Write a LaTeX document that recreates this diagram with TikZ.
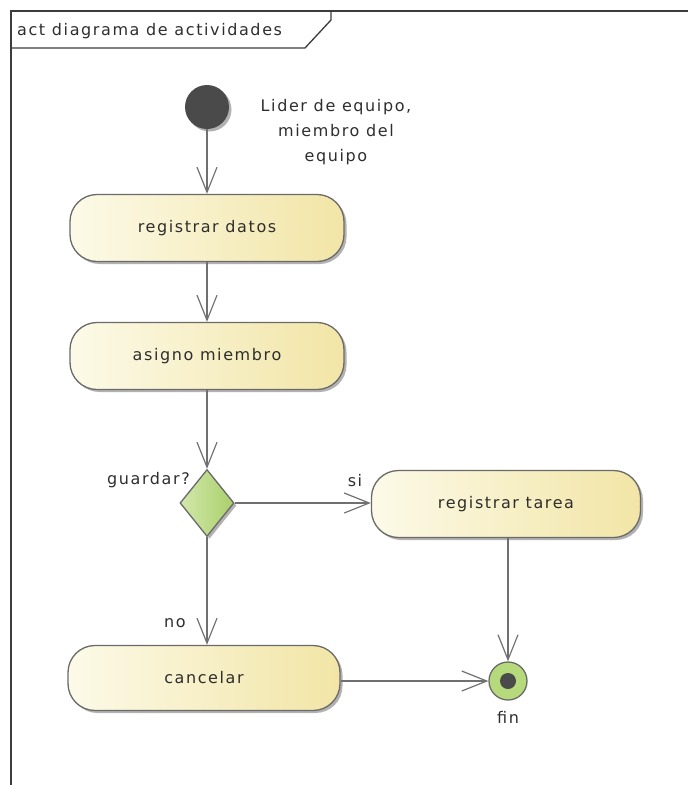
\documentclass[tikz,border=0pt]{standalone}
\usepackage{fontspec}
\usepackage{tikz}
\usetikzlibrary{arrows.meta,shapes.geometric,shadows}
\newfontfamily\umlfont{DejaVu Sans}[LetterSpace=10]
\definecolor{cLine}{HTML}{707070}
\definecolor{cEdge}{HTML}{6A6A6A}
\definecolor{cFrame}{HTML}{3C3C3C}
\definecolor{cTxt}{HTML}{2E2E2E}
\definecolor{cBoxL}{HTML}{FCFAE8}
\definecolor{cBoxR}{HTML}{F2E5A6}
\definecolor{cDecL}{HTML}{D3E7AC}
\definecolor{cDecR}{HTML}{A9D06A}
\definecolor{cDot}{HTML}{4A4A4A}
\definecolor{cFin}{HTML}{B6D97C}
\tikzset{
  shad/.style={drop shadow={shadow xshift=2.5pt, shadow yshift=-2.5pt, opacity=0.3, fill=black}},
  actbox/.style={rectangle, rounded corners=27pt, draw=cEdge, line width=1.3pt,
    left color=cBoxL, right color=cBoxR, minimum width=274pt, minimum height=67pt, shad},
  decis/.style={diamond, draw=cEdge, line width=1.3pt, left color=cDecL, right color=cDecR,
    minimum width=54pt, minimum height=67pt, inner sep=0pt, shad},
  startdot/.style={circle, fill=cDot, minimum size=44pt, inner sep=0pt, shad},
  finnode/.style={circle, draw=cEdge, line width=1.3pt, fill=cFin, minimum size=38pt, inner sep=0pt,
    path picture={\fill[cDot] (path picture bounding box.center) circle (8pt);}},
  flow/.style={draw=cLine, line width=1.2pt, -{Straight Barb[length=25pt, width=20pt]}},
  lbl/.style={text=cTxt, inner sep=0pt},
  frameline/.style={draw=cFrame, line width=1.8pt},
}

\begin{document}
\begin{tikzpicture}[x=1pt, y=-1pt, font=\umlfont\fontsize{16}{25}\selectfont, text=cTxt]
\useasboundingbox (0,0) rectangle (688,785);
% frame
\draw[frameline] (11,785) -- (11,11) -- (688,11);
\draw[frameline, line width=1.3pt] (11,48) -- (305,48) -- (331,20) -- (331,11);
\node[lbl, anchor=west] (title) at (17,31) {act diagrama de actividades};
% nodes
\node[startdot] (start) at (207,107) {};
\node[lbl, align=center] (actor) at (336,132) {Lider de equipo,\\miembro del\\equipo};
\node[actbox] (datos) at (207,228) {registrar datos};
\node[actbox] (miembro) at (207,356) {asigno miembro};
\node[decis] (guardar) at (207,503) {};
\node[lbl, anchor=east] (guardarlbl) at (190,480) {guardar?};
\node[actbox, minimum width=269pt] (tarea) at (506,504) {registrar tarea};
\node[actbox, minimum width=272pt, minimum height=65pt] (cancelar) at (204,678) {cancelar};
\node[finnode] (fin) at (508,681) {};
\node[lbl] (finlbl) at (508,717) {fin};
\node[lbl] (si) at (355,481) {si};
\node[lbl] (no) at (175,623) {no};
% flows
\draw[flow] (start) -- (start |- datos.north);
\draw[flow] (datos) -- (miembro);
\draw[flow] (miembro) -- (guardar);
\draw[flow] (guardar.east) -- (guardar.east -| tarea.west);
\draw[flow] (guardar.south) -- (guardar.south |- cancelar.north);
\draw[flow] (fin |- tarea.south) -- (fin.north);
\draw[flow] (cancelar.east |- fin) -- (fin.west);
\end{tikzpicture}
\end{document}
